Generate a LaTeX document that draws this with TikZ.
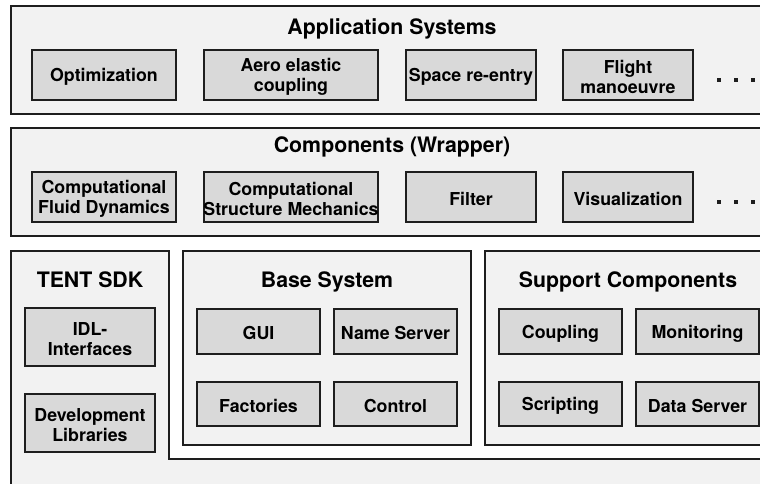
\documentclass[tikz,border=0pt]{standalone}
\usepackage{fontspec}
\setmainfont{TeX Gyre Heros}
\usepackage{tikz}
\usetikzlibrary{calc}
\definecolor{panelgray}{HTML}{F2F2F2}
\definecolor{boxgray}{HTML}{D9D9D9}
\definecolor{edgegray}{HTML}{1E1E1E}
\tikzstyle{panel}=[fill=panelgray, draw=edgegray, line width=1.3pt]
\tikzstyle{boxed}=[fill=boxgray, draw=edgegray, line width=1.3pt]
\tikzstyle{title}=[font=\bfseries\fontsize{21.3}{23}\selectfont, anchor=base, inner sep=0pt]
\tikzstyle{label}=[font=\bfseries\fontsize{17.8}{19.5}\selectfont, align=center, inner sep=0pt]
\newcommand{\cbox}[4]{
 \draw[boxed] #2 rectangle #3;
 \node[label] (#1) at ($#2!.5!#3+(0,2)$) {#4};
}
\newcommand{\moredots}[2]{
 \foreach \dx in {0,17,34} {\fill[edgegray] ($#1+(\dx,0)+(-2,-2)$) rectangle ++(4,4);}
 \coordinate (#2) at #1;
}

\begin{document}
\begin{tikzpicture}[x=1pt, y=-1pt]
 \useasboundingbox (0,0) rectangle (760,484);
 \clip (0,0) rectangle (760,484);
%
 \draw[panel] (11,6) rectangle (775,114);
 \node[title] (apptitle) at (392,35) {Application Systems};
 \cbox{optim}{(32,50)}{(176,100)}{Optimization}
 \cbox{aero}{(204,50)}{(378,100)}{Aero elastic\\coupling}
 \cbox{reentry}{(406,50)}{(536,100)}{Space re-entry}
 \cbox{flight}{(563,50)}{(693,100)}{Flight\\manoeuvre}
 \moredots{(719,80)}{appdots}
%
 \draw[panel] (11,128) rectangle (775,236);
 \node[title] (comptitle) at (392,152) {Components (Wrapper)};
 \cbox{cfd}{(32,172)}{(176,222)}{Computational\\Fluid Dynamics}
 \cbox{csm}{(204,172)}{(378,222)}{Computational\\Structure Mechanics}
 \cbox{filter}{(406,172)}{(536,222)}{Filter}
 \cbox{visual}{(563,172)}{(693,222)}{Visualization}
 \moredots{(719,202)}{compdots}
%
 \fill[panelgray] (11,494) -- (11,251) -- (169,251) -- (169,459) -- (775,459) -- (775,494) -- cycle;
 \draw[edgegray, line width=1.3pt] (11,494) -- (11,251) -- (169,251) -- (169,459) -- (775,459);
 \node[title] (sdktitle) at (90,287) {TENT SDK};
 \cbox{idl}{(25,308)}{(155,366)}{IDL-\\Interfaces}
 \cbox{devlib}{(25,394)}{(155,452)}{Development\\Libraries}
%
 \draw[panel] (183,251) rectangle (471,445);
 \node[title] (basetitle) at (327,287) {Base System};
 \cbox{gui}{(197,309)}{(320,354)}{GUI}
 \cbox{names}{(334,309)}{(457,354)}{Name Server}
 \cbox{factory}{(197,382)}{(320,426)}{Factories}
 \cbox{control}{(334,382)}{(457,426)}{Control}
%
 \draw[panel] (485,251) rectangle (773,445);
 \node[title] (supptitle) at (628,287) {Support Components};
 \cbox{coupling}{(499,309)}{(622,354)}{Coupling}
 \cbox{monitor}{(636,309)}{(759,354)}{Monitoring}
 \cbox{script}{(499,382)}{(622,426)}{Scripting}
 \cbox{dataserv}{(636,382)}{(759,426)}{Data Server}
\end{tikzpicture}
\end{document}
